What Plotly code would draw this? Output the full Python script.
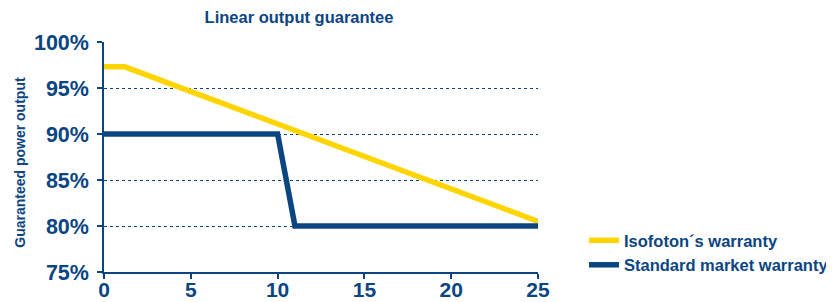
import plotly.graph_objects as go

years_iso = [0, 1.2, 25]
iso_values = [97.3, 97.3, 80.5]
years_std = [0, 10, 11, 25]
std_values = [90, 90, 80, 80]
x_ticks = [0, 5, 10, 15, 20, 25]
y_ticks = [75, 80, 85, 90, 95, 100]
y_labels = ["75%", "80%", "85%", "90%", "95%", "100%"]

BLUE = "#0b4582"
YELLOW = "#ffd500"
FONT = "Liberation Sans"

OFF = 8  # page body margin
W, H = 834 - OFF, 302 - OFF
L, T, B, R = 104 - OFF, 41.5 - OFF, 272 - OFF, 538 - OFF

fig = go.Figure()
fig.add_trace(go.Scatter(x=years_iso, y=iso_values, mode="lines",
                         line=dict(color=YELLOW, width=5.5), name="<b>Isofoton´s warranty</b>"))
fig.add_trace(go.Scatter(x=years_std, y=std_values, mode="lines",
                         line=dict(color=BLUE, width=5.5), name="<b>Standard market warranty</b>"))

fig.update_layout(
    width=W, height=H,
    margin=dict(l=L, r=W - R, t=T, b=H - B, autoexpand=False),
    paper_bgcolor="white", plot_bgcolor="white",
    font=dict(family=FONT, color=BLUE),
    title=dict(text="<b>Linear output guarantee</b>", x=(299 - OFF)/W, xanchor="center",
               y=1 - (17 - OFF)/H, yanchor="middle", font=dict(size=16.5, color=BLUE, family=FONT)),
    showlegend=True,
    legend=dict(x=(584 - OFF - L)/(R - L), xanchor="left", y=(B - (223 - OFF))/(B - T), yanchor="top",
                font=dict(size=16.5, color=BLUE, family=FONT), tracegroupgap=0,
                itemwidth=30, bgcolor="rgba(0,0,0,0)"),
    xaxis=dict(range=[0, 25], tickvals=x_ticks, ticktext=["<b>%d</b>" % v for v in x_ticks],
               showgrid=False, zeroline=False, automargin=False,
               showline=True, linecolor=BLUE, linewidth=1.5,
               ticks="outside", ticklen=5, tickcolor=BLUE, tickwidth=1.5,
               ticklabelstandoff=-7,
               tickfont=dict(size=21, color=BLUE, family=FONT)),
    yaxis=dict(range=[75, 100], tickvals=y_ticks, ticktext=["<b>%s</b>" % t for t in y_labels],
               showgrid=True, gridcolor=BLUE, griddash="dot", gridwidth=1,
               zeroline=False, showline=True, linecolor=BLUE, linewidth=1.5, automargin=False,
               ticks="outside", ticklen=5, tickcolor=BLUE, tickwidth=1.5,
               ticklabelstandoff=4,
               tickfont=dict(size=21.5, color=BLUE, family=FONT)),
    annotations=[dict(text="<b>Guaranteed power output</b>", xref="paper", yref="paper",
                      x=(20 - OFF - L)/(R - L), y=(B - (162.5 - OFF))/(B - T), textangle=-90,
                      showarrow=False, xanchor="center", yanchor="middle",
                      font=dict(size=14, color=BLUE, family=FONT))],
)

fig.write_html("out.html")
